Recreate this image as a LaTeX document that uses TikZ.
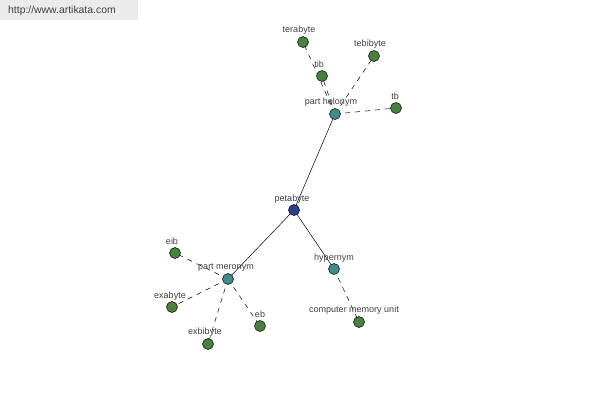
\documentclass[tikz,border=0pt]{standalone}
\usepackage{fontspec}
\setmainfont{Liberation Sans}
\definecolor{leaf}{HTML}{4A8040}
\definecolor{mid}{HTML}{3E8C8C}
\definecolor{root}{HTML}{2E3F8F}
\definecolor{txt}{HTML}{404040}
\begin{document}
\begin{tikzpicture}[x=1pt,y=-1pt,
  dot/.style={circle,draw=black,line width=0.5pt,minimum size=11pt,inner sep=0pt},
  leafdot/.style={dot,fill=leaf},
  middot/.style={dot,fill=mid},
  rootdot/.style={dot,fill=root},
  lbl/.style={font=\fontsize{9}{10}\selectfont,text=txt,inner sep=0pt},
  solidedge/.style={draw=black,line width=0.5pt},
  dashedge/.style={draw=black,line width=0.5pt,dash pattern=on 5pt off 5pt}]
\useasboundingbox (0,0) rectangle (600,400);
\fill[white] (0,0) rectangle (600,400);
\fill[black!8] (0,0) rectangle (138,20);
\node[font=\fontsize{10.4}{11}\selectfont,text=txt,anchor=west,inner sep=0pt] (url) at (8,11) {http://www.artikata.com};
% coordinates
\coordinate (pP) at (294,210);
\coordinate (pH) at (335,114);
\coordinate (pM) at (228,279);
\coordinate (pY) at (334,269);
% edges
\draw[solidedge] (pP) -- (pH);
\draw[solidedge] (pP) -- (pM);
\draw[solidedge] (pP) -- (pY);
\draw[dashedge] (pH) -- (303,42);
\draw[dashedge] (pH) -- (322,76);
\draw[dashedge] (pH) -- (374,56);
\draw[dashedge] (pH) -- (396,108);
\draw[dashedge] (pM) -- (175,253);
\draw[dashedge] (pM) -- (172,307);
\draw[dashedge] (pM) -- (208,344);
\draw[dashedge] (pM) -- (260,326);
\draw[dashedge] (pY) -- (359,322);
% labels
\node[lbl] (lP) at (292,199) {petabyte};
\node[lbl] (lH) at (331,102) {part holonym};
\node[lbl] (lM) at (226,268) {part meronym};
\node[lbl] (lY) at (334,258) {hypernym};
\node[lbl] (l1) at (299,30) {terabyte};
\node[lbl] (l2) at (319,64) {tib};
\node[lbl] (l3) at (370,44) {tebibyte};
\node[lbl] (l4) at (395,96) {tb};
\node[lbl] (l5) at (172,241) {eib};
\node[lbl] (l6) at (170,296) {exabyte};
\node[lbl] (l7) at (205,332) {exbibyte};
\node[lbl] (l8) at (260,314) {eb};
\node[lbl] (l9) at (354,310) {computer memory unit};
% nodes
\node[rootdot] (petabyte) at (pP) {};
\node[middot] (holonym) at (pH) {};
\node[middot] (meronym) at (pM) {};
\node[middot] (hypernym) at (pY) {};
\node[leafdot] (terabyte) at (303,42) {};
\node[leafdot] (tib) at (322,76) {};
\node[leafdot] (tebibyte) at (374,56) {};
\node[leafdot] (tb) at (396,108) {};
\node[leafdot] (eib) at (175,253) {};
\node[leafdot] (exabyte) at (172,307) {};
\node[leafdot] (exbibyte) at (208,344) {};
\node[leafdot] (eb) at (260,326) {};
\node[leafdot] (cmu) at (359,322) {};
\end{tikzpicture}
\end{document}
